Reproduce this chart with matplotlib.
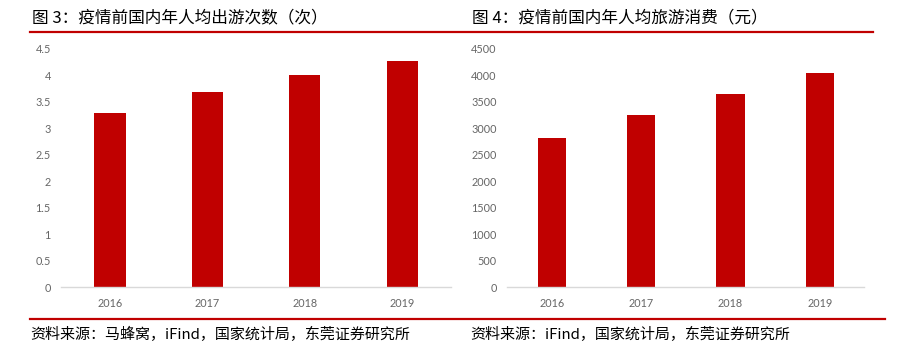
import matplotlib.pyplot as plt
from matplotlib.lines import Line2D

# 数据
YEARS = ['2016', '2017', '2018', '2019']
TRIPS = [3.29, 3.69, 4.00, 4.27]        # 人均出游次数（次）
SPEND = [2821, 3257, 3645, 4043]        # 人均旅游消费（元）

TITLE_L = '图 3：疫情前国内年人均出游次数（次）'
TITLE_R = '图 4：疫情前国内年人均旅游消费（元）'
SRC_L = '资料来源：马蜂窝，iFind，国家统计局，东莞证券研究所'
SRC_R = '资料来源：iFind，国家统计局，东莞证券研究所'

RED = '#C00000'
GRAY = '#666666'
CJK = ['Noto Sans CJK SC', 'DejaVu Sans']

W, H = 898, 360
fig = plt.figure(figsize=(W / 100, H / 100), dpi=100)


def px_axes(x0, x1, y_top, y_bot):
    return fig.add_axes([x0 / W, 1 - y_bot / H, (x1 - x0) / W, (y_bot - y_top) / H])


def draw_bars(ax, values, ymax, step, bar_w):
    x = range(len(YEARS))
    ax.bar(x, values, width=bar_w, color=RED, zorder=2)
    ax.set_xlim(-0.5, len(YEARS) - 0.5)
    ax.set_ylim(0, ymax)
    ax.set_xticks(list(x))
    ax.set_xticklabels(YEARS)
    ticks = [i * step for i in range(int(round(ymax / step)) + 1)]
    ax.set_yticks(ticks)
    if isinstance(step, float):
        ax.set_yticklabels([('%g' % t) for t in ticks])
    for s in ['top', 'right', 'left']:
        ax.spines[s].set_visible(False)
    ax.spines['bottom'].set_color('#d9d9d9')
    ax.spines['bottom'].set_linewidth(1.0)
    ax.tick_params(axis='both', length=0, labelsize=7.8, labelcolor=GRAY)
    ax.tick_params(axis='y', pad=7.5)
    ax.tick_params(axis='x', pad=8)
    for lab in ax.get_xticklabels() + ax.get_yticklabels():
        lab.set_family('Lato')


# 左图
ax1 = px_axes(61.3, 450.8, 48.7, 287)
draw_bars(ax1, TRIPS, 4.5, 0.5, 0.32)

# 右图
ax2 = px_axes(507.1, 864.4, 48.7, 287)
draw_bars(ax2, SPEND, 4500, 500, 0.317)

# 标题
fig.text(32 / W, 1 - 18 / H, TITLE_L, family=CJK, fontsize=12, va='center', ha='left', color='black')
fig.text(472 / W, 1 - 18 / H, TITLE_R, family=CJK, fontsize=12, va='center', ha='left', color='black')

# 红线
fig.add_artist(Line2D([30 / W, 873 / W], [1 - 32 / H, 1 - 32 / H], color=RED, lw=1.6))
fig.add_artist(Line2D([30 / W, 885 / W], [1 - 319 / H, 1 - 319 / H], color=RED, lw=1.6))

# 资料来源
fig.text(30 / W, 1 - 334 / H, SRC_L, family=CJK, fontsize=10.8, va='center', ha='left', color='black')
fig.text(470 / W, 1 - 334 / H, SRC_R, family=CJK, fontsize=10.8, va='center', ha='left', color='black')

fig.savefig('out.png', dpi=100)
